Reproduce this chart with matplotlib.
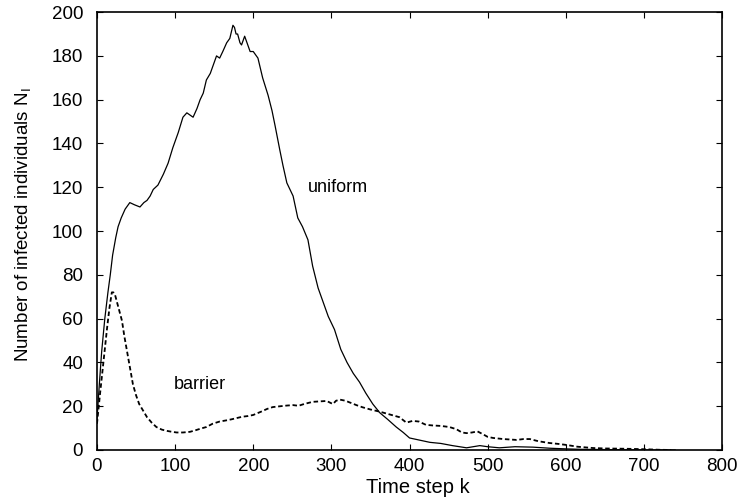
import matplotlib
matplotlib.use('Agg')
import matplotlib.pyplot as plt

plt.rcParams.update({
    'font.family': ['Liberation Sans', 'DejaVu Sans'],
    'font.size': 13.5,
    'xtick.direction': 'in',
    'ytick.direction': 'in',
    'xtick.top': True,
    'ytick.right': True,
})

# uniform case (solid line)
uniform_k = [0, 3, 6, 10, 14, 17, 20, 24, 27, 31, 36, 42, 48, 55, 60, 64, 68, 72, 78, 85,
             91, 97, 104, 110, 115, 119, 123, 128, 132, 136, 140, 145, 149, 153, 157, 161,
             166, 170, 174, 176, 178, 180, 183, 185, 187, 189, 192, 196, 200, 206, 212, 219,
             224, 228, 234, 238, 243, 247, 251, 257, 263, 270, 276, 283, 289, 296, 304, 312,
             320, 328, 336, 344, 353, 362, 372, 383, 392, 400, 413, 426, 440, 455, 473, 490,
             500, 515, 535, 558, 580, 601, 620, 650, 680, 710, 730, 740]
uniform_n = [14, 30, 45, 60, 72, 80, 89, 97, 102, 106, 110, 113, 112, 111, 113, 114, 116, 119, 121, 126,
             131, 138, 145, 152, 154, 153, 152, 156, 160, 163, 169, 172, 176, 180, 179, 182,
             186, 188, 194, 193, 190, 190, 186, 185, 187, 189, 186, 182, 182, 179, 170, 162,
             155, 148, 137, 130, 122, 119, 116, 106, 102, 96, 84, 74, 68, 61, 55, 46,
             40, 35, 31, 26, 21, 17, 14, 10.5, 8, 5.5, 4.5, 3.5, 3, 2, 1, 2,
             1.5, 1, 1.5, 1.3, 0.8, 0.5, 0.3, 0.2, 0.1, 0, 0, 0]

# barrier case (dashed line)
barrier_k = [0, 4, 7, 10, 13, 16, 19, 21, 23, 26, 29, 32, 35, 38, 42, 46, 50, 54, 59, 64,
             70, 76, 83, 90, 96, 102, 110, 119, 126, 133, 140, 148, 157, 165, 172, 179, 186,
             193, 200, 210, 218, 225, 235, 243, 251, 258, 265, 276, 285, 294, 299, 302, 306,
             311, 318, 325, 332, 340, 350, 362, 374, 387, 396, 404, 412, 421, 430, 440, 451,
             460, 467, 473, 480, 487, 495, 500, 507, 520, 537, 546, 554, 565, 579, 590, 601,
             615, 625, 635, 650, 670, 686, 705, 720, 735]
barrier_n = [12, 26, 36, 46, 56, 65, 72, 72, 71, 67, 63, 59, 52, 46, 38, 30, 25, 21, 18, 15,
             12.5, 10.5, 9.3, 8.7, 8.3, 8, 8, 8.3, 9, 9.8, 10.5, 12, 13, 13.5, 14, 14.6, 15.2,
             15.5, 16, 17.5, 18.8, 19.6, 20, 20.3, 20.5, 20.2, 21, 22, 22.2, 22.4, 21.5, 21, 22.5,
             23, 22.5, 21.5, 20.5, 19.5, 18.5, 17.5, 16.3, 15, 12.5, 13.3, 13, 11.5, 11.2, 11, 10.5,
             9.5, 8, 7.7, 8, 8.5, 7, 6, 5.5, 5, 4.6, 5, 5, 4, 3.2, 2.8, 2.3,
             1.5, 1.2, 0.9, 0.7, 0.6, 0.5, 0.3, 0.1, 0]

fig = plt.figure(figsize=(7.37, 5.01), dpi=100)
ax = fig.add_axes([0.1316, 0.1018, 0.8481, 0.874])

ax.plot(uniform_k, uniform_n, color='black', linewidth=0.9)
ax.plot(barrier_k, barrier_n, color='black', linewidth=1.3, linestyle=(0, (2.5, 1.5)))

ax.text(308, 120, 'uniform', ha='center', va='center', fontsize=13)
ax.text(132, 30, 'barrier', ha='center', va='center', fontsize=13)

ax.set_xlim(0, 800)
ax.set_ylim(0, 200)
ax.set_xticks(range(0, 801, 100))
ax.set_yticks(range(0, 201, 20))
ax.tick_params(axis='both', length=4, width=0.8)
ax.tick_params(axis='x', pad=6)
ax.tick_params(axis='y', pad=10)
for s in ax.spines.values():
    s.set_linewidth(1.2)

ax.set_xlabel('Time step k', fontsize=14.5)
ax.xaxis.set_label_coords(0.514, -0.063)
ax.set_ylabel('Number of infected individuals N$_\\mathregular{I}$', fontsize=13.5)
ax.yaxis.set_label_coords(-0.1, 0.515)

fig.savefig('out.png', dpi=100)
